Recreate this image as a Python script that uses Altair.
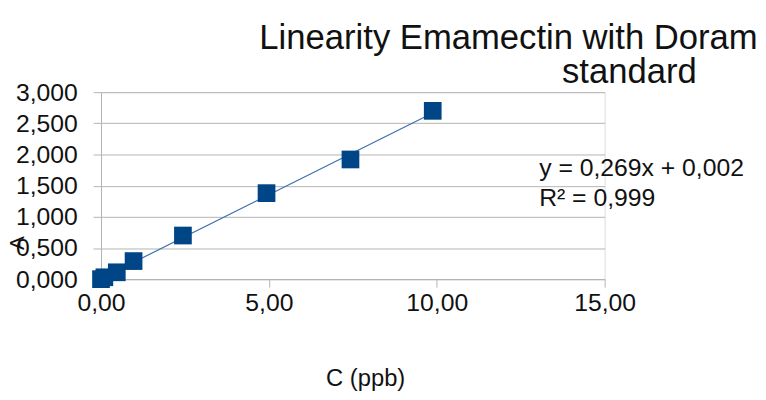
import altair as alt
import pandas as pd

conc = [0.0, 0.1, 0.47, 0.97, 2.44, 4.93, 7.43, 9.88]
area = [0.0, 0.03, 0.11, 0.29, 0.70, 1.38, 1.92, 2.70]
x_ticks = [0, 5, 10, 15]
y_ticks = [0, 0.5, 1.0, 1.5, 2.0, 2.5, 3.0]
title_lines = ["Linearity Emamectin with Doramectin", "standard"]
eq_lines = ["y = 0,269x + 0,002", "R² = 0,999"]
eq_x = [13.05, 13.05]
eq_y = [1.78, 1.30]

df = pd.DataFrame({"C": conc, "A": area})
eq = pd.DataFrame({"t": eq_lines, "x": eq_x, "y": eq_y})

FONT = "Liberation Sans"
GRID = "#b3b3b3"

xs = alt.Scale(domain=[0, 15], nice=False)
ys = alt.Scale(domain=[0, 3], nice=False)

xaxis = alt.Axis(values=x_ticks, title="C (ppb)", grid=False,
                 labelExpr="replace(format(datum.value, '.2f'), '.', ',')",
                 labelFontSize=25, labelFont=FONT, labelColor="#111",
                 labelFlush=False, labelOverlap=False,
                 labelPadding=4, tickSize=8, tickColor=GRID, domainColor=GRID,
                 titleFontSize=24, titleFont=FONT, titleFontWeight="normal",
                 titleColor="#111", titlePadding=51, titleX=267)
yaxis = alt.Axis(values=y_ticks, title="A", grid=True, gridColor=GRID,
                 labelExpr="replace(format(datum.value, '.3f'), '.', ',')",
                 labelFontSize=25, labelFont=FONT, labelColor="#111",
                 labelFlush=False, labelOverlap=False,
                 labelPadding=16, tickSize=8, tickColor=GRID, domainColor=GRID,
                 titleFontSize=21, titleFont=FONT, titleFontWeight="normal",
                 titleColor="#111", titleX=-74, titleY=152)

X = alt.X("C:Q", scale=xs, axis=xaxis)
Y = alt.Y("A:Q", scale=ys, axis=yaxis)

base = alt.Chart(df)

line = base.transform_regression("C", "A").mark_line(
    color="#3a6fb0", strokeWidth=1.2
).encode(x=X, y=Y)

pts = base.mark_point(shape="square", filled=True, size=320, color="#004586",
                      opacity=1).encode(x=X, y=Y)

txt = alt.Chart(eq).mark_text(align="left", baseline="middle", fontSize=25,
                              font=FONT, color="#111", clip=False).encode(
    x=alt.X("x:Q", scale=xs, axis=xaxis), y=alt.Y("y:Q", scale=ys, axis=yaxis),
    text="t:N")

title1 = alt.Chart(pd.DataFrame({"t": [title_lines[0]]})).mark_text(
    align="left", baseline="alphabetic", fontSize=35, font=FONT, color="#111",
    clip=False
).encode(x=alt.value(160), y=alt.value(-44), text="t:N")

title2 = alt.Chart(pd.DataFrame({"t": [title_lines[1]]})).mark_text(
    align="center", baseline="alphabetic", fontSize=35, font=FONT, color="#111",
    clip=False
).encode(x=alt.value(534), y=alt.value(-9), text="t:N")

chart = alt.layer(line, pts, txt, title1, title2).properties(
    width=509, height=189,
    autosize=alt.AutoSizeParams(type="none"),
    padding={"left": 94, "top": 83, "right": 155, "bottom": 112},
).configure_view(stroke=GRID, strokeWidth=1).configure(background="white")

chart.save("out.html", embed_options={"renderer": "svg", "actions": False})
